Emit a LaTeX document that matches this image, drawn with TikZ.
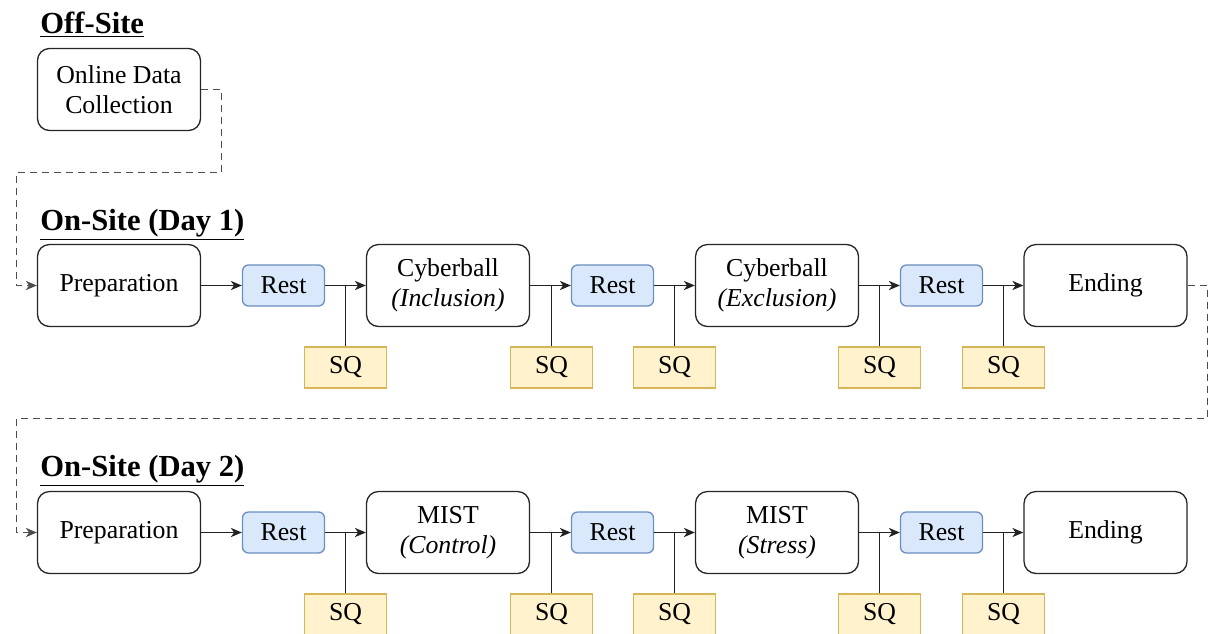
\documentclass[tikz,border=0pt]{standalone}
\usepackage{fontspec}
\setmainfont{Liberation Serif}
\usetikzlibrary{arrows.meta}
\definecolor{restFill}{HTML}{dae8fc}
\definecolor{restLine}{HTML}{6c8ebf}
\definecolor{sqFill}{HTML}{fff2cc}
\definecolor{sqLine}{HTML}{d6b656}
\definecolor{wireGrey}{HTML}{222222}
\tikzset{
  >={Stealth[length=5.5pt,width=4.6pt,inset=1.6pt]},
  stage/.style={rounded corners=6pt, draw=black!85, fill=white, line width=0.65pt,
              align=center, minimum width=81.5pt, minimum height=41pt, inner sep=2pt,
              font=\fontsize{12.9}{15.2}\selectfont},
  rest/.style={rounded corners=3pt, draw=restLine, fill=restFill, line width=0.65pt,
              minimum width=41pt, minimum height=20.5pt, inner sep=1pt,
              font=\fontsize{12.9}{15.2}\selectfont},
  sq/.style={draw=sqLine, fill=sqFill, line width=0.65pt,
              minimum width=41pt, minimum height=20.5pt, inner sep=1pt,
              font=\fontsize{12.9}{15.2}\selectfont},
  head/.style={anchor=base west, inner sep=0pt, font=\fontsize{15.3}{18}\selectfont\bfseries},
  flow/.style={->, draw=wireGrey, line width=0.6pt},
  tap/.style={draw=wireGrey, line width=0.6pt},
  dflow/.style={->, draw=black!70, line width=0.6pt, dash pattern=on 3.5pt off 2.5pt},
}

\begin{document}
\begin{tikzpicture}[x=0.5pt,y=-0.5pt]
  \useasboundingbox (0,0) rectangle (1209,633);
  % off-site block
  \node[head] (hoff) at (40,33) {\underline{Off-Site}};
  \node[stage] (odc) at (119,89.5) {Online Data\\Collection};

  % day 1
  \node[head] (hday1) at (40,230) {\underline{On-Site (Day 1)}};
  \node[stage] (prep1) at (119,285.5) {Preparation};
  \node[rest] (rest1a) at (283.5,285.5) {Rest};
  \node[stage] (cyb1) at (448,285.5) {Cyberball\\\textit{(Inclusion)}};
  \node[rest] (rest1b) at (612.5,285.5) {Rest};
  \node[stage] (cyb2) at (777,285.5) {Cyberball\\\textit{(Exclusion)}};
  \node[rest] (rest1c) at (941.5,285.5) {Rest};
  \node[stage] (end1) at (1105.5,285.5) {Ending};
  \node[sq] (sq1a) at (345.5,367.5) {SQ};
  \node[sq] (sq1b) at (551.5,367.5) {SQ};
  \node[sq] (sq1c) at (674.5,367.5) {SQ};
  \node[sq] (sq1d) at (879.5,367.5) {SQ};
  \node[sq] (sq1e) at (1003.5,367.5) {SQ};

  % day 2
  \node[head] (hday2) at (40,476) {\underline{On-Site (Day 2)}};
  \node[stage] (prep2) at (119,532.5) {Preparation};
  \node[rest] (rest2a) at (283.5,532.5) {Rest};
  \node[stage] (mist1) at (448,532.5) {MIST\\\textit{(Control)}};
  \node[rest] (rest2b) at (612.5,532.5) {Rest};
  \node[stage] (mist2) at (777,532.5) {MIST\\\textit{(Stress)}};
  \node[rest] (rest2c) at (941.5,532.5) {Rest};
  \node[stage] (end2) at (1105.5,532.5) {Ending};
  \node[sq] (sq2a) at (345.5,614.5) {SQ};
  \node[sq] (sq2b) at (551.5,614.5) {SQ};
  \node[sq] (sq2c) at (674.5,614.5) {SQ};
  \node[sq] (sq2d) at (879.5,614.5) {SQ};
  \node[sq] (sq2e) at (1003.5,614.5) {SQ};

  % dashed hand-overs between blocks
  \draw[dflow] (odc.east) -- (221.5,89.5) -- (221.5,172.5) -- (16.5,172.5) -- (16.5,285.5) -- (prep1.west);
  \draw[dflow] (end1.east) -- (1207.5,285.5) -- (1207.5,418.5) -- (16.5,418.5) -- (16.5,532.5) -- (prep2.west);

  % sequence arrows
  \draw[flow](prep1)--(rest1a);\draw[flow](rest1a)--(cyb1);\draw[flow](cyb1)--(rest1b);
  \draw[flow](rest1b)--(cyb2);\draw[flow](cyb2)--(rest1c);\draw[flow](rest1c)--(end1);
  \draw[flow](prep2)--(rest2a);\draw[flow](rest2a)--(mist1);\draw[flow](mist1)--(rest2b);
  \draw[flow](rest2b)--(mist2);\draw[flow](mist2)--(rest2c);\draw[flow](rest2c)--(end2);

  % questionnaire taps
  \draw[tap](sq1a)--(sq1a|-rest1a);\draw[tap](sq1b)--(sq1b|-rest1a);
  \draw[tap](sq1c)--(sq1c|-rest1a);\draw[tap](sq1d)--(sq1d|-rest1a);
  \draw[tap](sq1e)--(sq1e|-rest1a);
  \draw[tap](sq2a)--(sq2a|-rest2a);\draw[tap](sq2b)--(sq2b|-rest2a);
  \draw[tap](sq2c)--(sq2c|-rest2a);\draw[tap](sq2d)--(sq2d|-rest2a);
  \draw[tap](sq2e)--(sq2e|-rest2a);
\end{tikzpicture}
\end{document}
